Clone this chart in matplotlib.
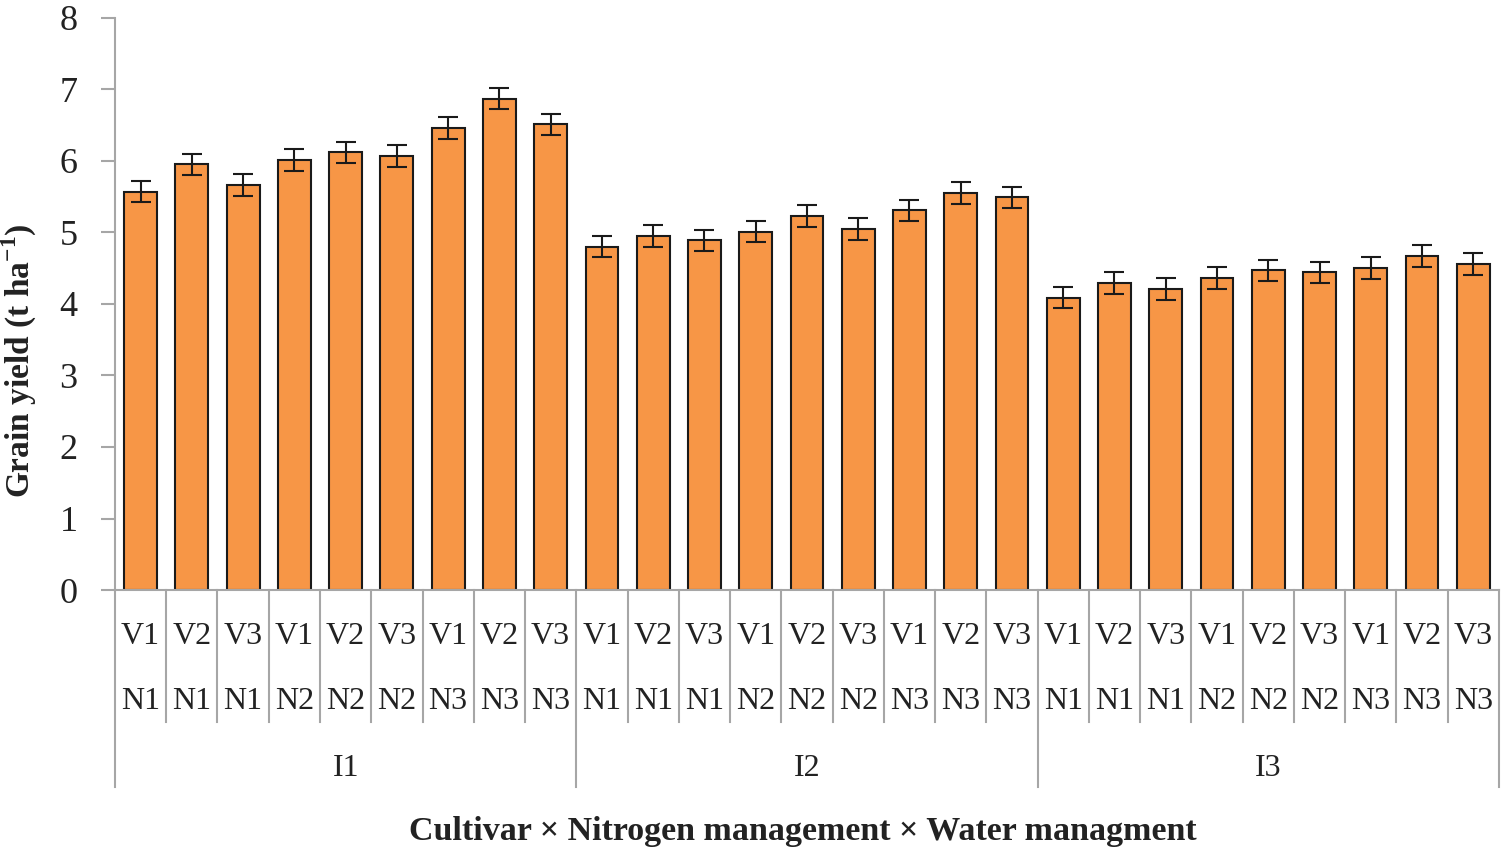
import matplotlib
matplotlib.use("Agg")
import matplotlib.pyplot as plt
import matplotlib.transforms as mtransforms
import numpy as np

# Dados
water = ["I1", "I2", "I3"]
nitrogen = ["N1", "N1", "N1", "N2", "N2", "N2", "N3", "N3", "N3"]
cultivar = ["V1", "V2", "V3", "V1", "V2", "V3", "V1", "V2", "V3"]

yield_i1 = [5.57, 5.95, 5.66, 6.01, 6.12, 6.07, 6.46, 6.87, 6.51]
yield_i2 = [4.80, 4.95, 4.89, 5.01, 5.23, 5.05, 5.31, 5.55, 5.49]
yield_i3 = [4.09, 4.29, 4.21, 4.36, 4.47, 4.44, 4.50, 4.67, 4.56]
err = [0.15] * 27


def main():
    plt.rcParams['font.family'] = ['Liberation Serif', 'DejaVu Serif']
    plt.rcParams['mathtext.fontset'] = 'custom'
    plt.rcParams['mathtext.rm'] = 'Liberation Serif'
    plt.rcParams['mathtext.bf'] = 'Liberation Serif:bold'

    values = yield_i1 + yield_i2 + yield_i3
    x = np.arange(len(values))
    grey = '#a6a6a6'

    fig = plt.figure(figsize=(15.01, 8.49), dpi=100)
    ax = fig.add_axes([0.0766, 0.305, 0.922, 0.674])

    ax.bar(x, values, width=0.64, color='#f79646', edgecolor='#1a1a1a', linewidth=1.5, zorder=2)
    ax.errorbar(x, values, yerr=err, fmt='none', ecolor='#1a1a1a', elinewidth=1.5,
                capsize=7, capthick=1.5, zorder=3)

    ax.set_xlim(-0.5, len(values) - 0.5)
    ax.set_ylim(0, 8)
    ax.set_yticks(range(0, 9))
    ax.tick_params(axis='y', labelsize=26, length=10, width=1.5, color=grey,
                   labelcolor='#222222', pad=17)
    ax.set_xticks([])

    for s in ['top', 'right']:
        ax.spines[s].set_visible(False)
    for s in ['left', 'bottom']:
        ax.spines[s].set_color(grey)
        ax.spines[s].set_linewidth(1.5)

    # Eixo de categorias com vários níveis
    trans = mtransforms.blended_transform_factory(ax.transData, ax.transAxes)
    n = len(values)
    for i in range(n + 1):
        if i % 9 == 0:
            y_end = -0.344
        else:
            y_end = -0.231
        ax.plot([i - 0.5, i - 0.5], [0, y_end], color=grey, lw=1.5,
                transform=trans, clip_on=False)

    for i in range(n):
        ax.text(i, -0.081, cultivar[i % 9], transform=trans, ha='center', va='center',
                fontsize=23, color='#222222')
        ax.text(i, -0.194, nitrogen[i % 9], transform=trans, ha='center', va='center',
                fontsize=23, color='#222222')
    for g, name in enumerate(water):
        ax.text(g * 9 + 4, -0.311, name, transform=trans, ha='center', va='center',
                fontsize=23, color='#222222')

    fig.text(0.013, 0.575, r'Grain yield (t ha$^{\mathbf{-1}}$)', rotation=90,
             ha='center', va='center', fontsize=24, fontweight='bold', color='#222222')
    fig.text(0.535, 0.021, 'Cultivar × Nitrogen management × Water managment',
             ha='center', va='center', fontsize=24.5, fontweight='bold', color='#222222')

    fig.savefig('out.png', dpi=100)
    plt.close()


if __name__ == "__main__":
    main()
